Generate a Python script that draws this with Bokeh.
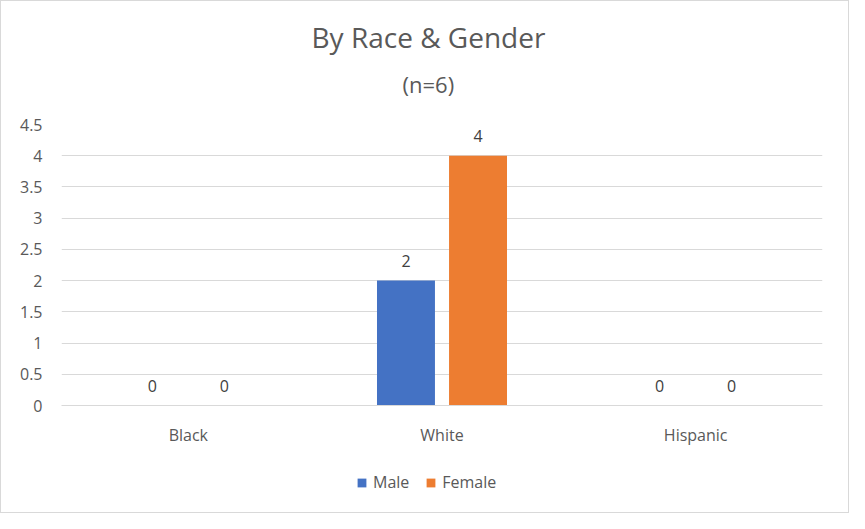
from bokeh.plotting import figure
from bokeh.layouts import column
from bokeh.models import ColumnDataSource, FactorRange, Title, Legend, LegendItem, FixedTicker
from bokeh.transform import dodge
from bokeh.core.properties import value
from bokeh.embed import file_html
from bokeh.resources import INLINE

categories = ["Black", "White", "Hispanic"]
series = ["Male", "Female"]
colors = ["#4472C4", "#ED7D31"]
male = [0, 2, 0]
female = [0, 4, 0]
y_ticks = [0, 0.5, 1, 1.5, 2, 2.5, 3, 3.5, 4, 4.5]

FONT = "Open Sans"
TXT = "#595959"

src = ColumnDataSource(dict(
    cat=categories, male=male, female=female,
    male_txt=[str(v) for v in male], female_txt=[str(v) for v in female],
))

p = figure(x_range=FactorRange(*categories), y_range=(0, 4.5),
           width=847, height=461, output_backend="svg", toolbar_location=None,
           min_border_left=60, min_border_right=26, min_border_top=123, min_border_bottom=57)

p.add_layout(Title(text="(n=6)", align="left", text_font=FONT, text_font_size="22px",
                   text_color=TXT, text_font_style="normal", offset=341, standoff=51), "above")
p.add_layout(Title(text="By Race & Gender", align="left", text_font=FONT, text_font_size="28px",
                   text_color=TXT, text_font_style="normal", offset=250, standoff=-28), "above")

off = 0.142
w = 0.2285
rm = p.vbar(x=dodge("cat", -off, range=p.x_range), top="male", width=w, source=src,
            color=colors[0], line_color=None)
rf = p.vbar(x=dodge("cat", off, range=p.x_range), top="female", width=w, source=src,
            color=colors[1], line_color=None)

for col, o in (("male", -off), ("female", off)):
    p.text(x=dodge("cat", o, range=p.x_range), y=col, text=col + "_txt", source=src,
           text_font=value(FONT), text_font_size="16px", text_color="#404040",
           text_align="center", text_baseline="bottom", y_offset=-14)

p.yaxis.ticker = FixedTicker(ticks=y_ticks)
p.ygrid.ticker = FixedTicker(ticks=y_ticks)
p.xgrid.grid_line_color = None
p.ygrid.grid_line_color = "#d9d9d9"
p.ygrid.grid_line_width = 1
p.outline_line_color = None

for ax in (p.xaxis, p.yaxis):
    ax.axis_line_color = None
    ax.major_tick_line_color = None
    ax.minor_tick_line_color = None
    ax.major_tick_out = 0
    ax.major_tick_in = 0
    ax.major_label_text_font = FONT
    ax.major_label_text_font_size = "16px"
    ax.major_label_text_color = TXT
p.yaxis.major_label_standoff = 19
p.xaxis.major_label_standoff = 18
p.xaxis.axis_line_color = "#d9d9d9"

# legend strip (a separate small figure, since side-panel legends are avoided)
lg = figure(width=847, height=50, x_range=(0, 1), y_range=(0, 1),
            output_backend="svg", toolbar_location=None,
            x_axis_location=None, y_axis_location=None,
            min_border_left=0, min_border_right=0, min_border_top=0, min_border_bottom=0)
lg.grid.grid_line_color = None
lg.outline_line_color = None
items = []
for name, c in zip(series, colors):
    # zero-height proxy bar: draws nothing itself, only provides the legend swatch
    r = lg.vbar(x=[0.5], top=[0], bottom=[0], width=0.01, color=c, line_color=None)
    items.append(LegendItem(label=name, renderers=[r]))
legend = Legend(items=items, orientation="horizontal", location=(295, 19),
                label_text_font=FONT, label_text_font_size="16px", label_text_color=TXT,
                glyph_width=11, glyph_height=11, spacing=16, label_standoff=6,
                border_line_color=None, background_fill_alpha=0, margin=0, padding=4)
lg.add_layout(legend)

layout = column(p, lg, spacing=0)
layout.styles = {"border": "1px solid #d9d9d9"}

open("out.html", "w").write(file_html(layout, INLINE))
